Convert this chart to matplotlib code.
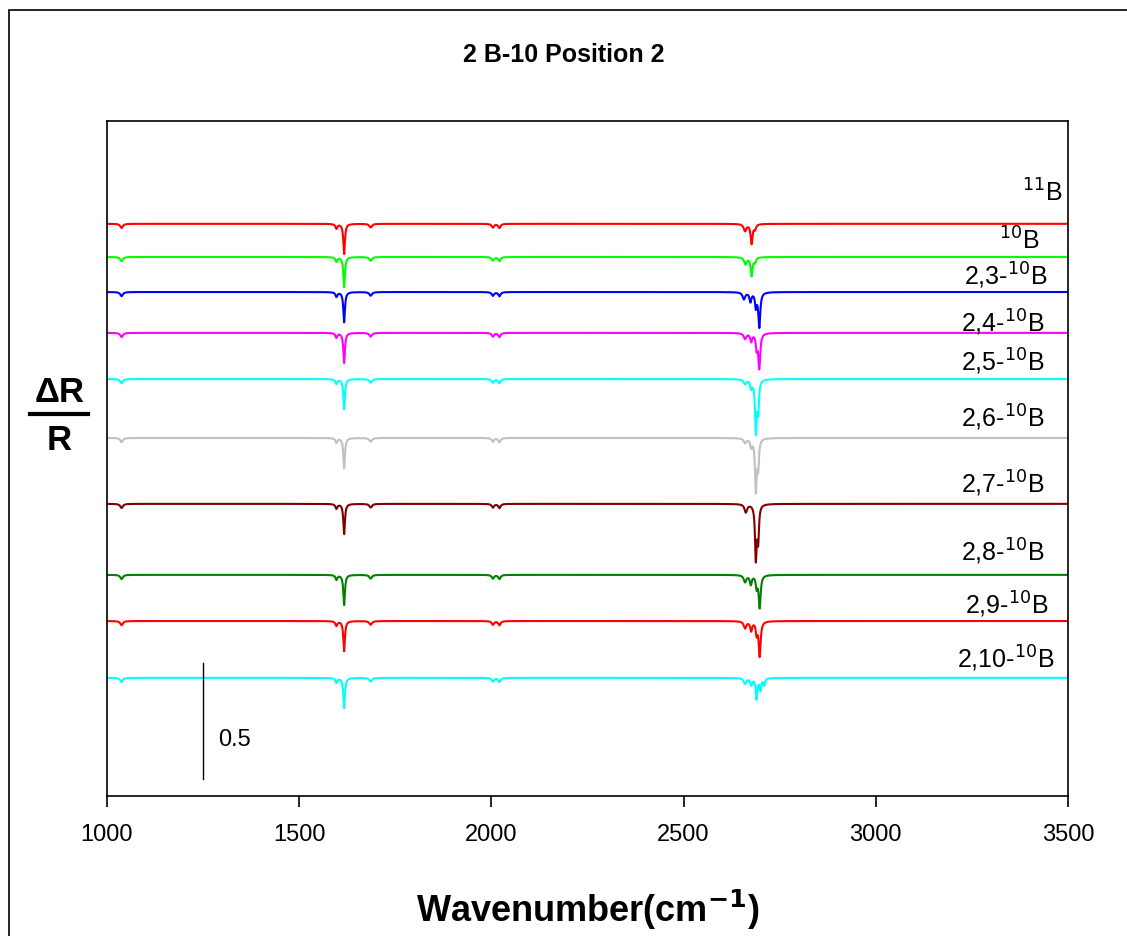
import numpy as np
import matplotlib
matplotlib.use('Agg')
import matplotlib.pyplot as plt
from matplotlib.lines import Line2D
from matplotlib.patches import Rectangle

plt.rcParams['font.family'] = ['Liberation Sans', 'DejaVu Sans']

# trace names, colours and vertical offsets (units of dR/R)
labels = ['$^{11}$B', '$^{10}$B', '2,3-$^{10}$B', '2,4-$^{10}$B', '2,5-$^{10}$B',
          '2,6-$^{10}$B', '2,7-$^{10}$B', '2,8-$^{10}$B', '2,9-$^{10}$B', '2,10-$^{10}$B']
colors = ['#FF0000', '#00FF00', '#0000FF', '#FF00FF', '#00FFFF',
          '#C0C0C0', '#800000', '#008000', '#FF0000', '#00FFFF']
offsets = [2.466, 2.323, 2.172, 1.996, 1.797, 1.543, 1.259, 0.953, 0.754, 0.509]

# dips shared by every trace: (position cm-1, depth, half width)
common_peaks = [(1038, 0.018, 4), (1597, 0.02, 3), (1617, 0.13, 2.5),
                (1686, 0.016, 4), (2004, 0.016, 3.5), (2021, 0.018, 3.5)]

# dips of the C-H region, per trace
ch_peaks = [
    [(2660, 0.03, 4), (2677, 0.085, 3), (2686, 0.02, 3)],
    [(2661, 0.03, 4), (2677, 0.08, 3), (2686, 0.02, 3)],
    [(2657, 0.03, 4), (2674, 0.04, 3), (2688, 0.06, 2.5), (2697, 0.15, 3)],
    [(2660, 0.025, 4), (2676, 0.035, 3), (2690, 0.06, 2.5), (2697, 0.15, 3)],
    [(2660, 0.02, 4), (2676, 0.035, 3), (2688, 0.22, 2.5), (2694, 0.13, 2.5)],
    [(2660, 0.02, 4), (2676, 0.035, 3), (2688, 0.22, 2.5), (2694, 0.12, 2.5)],
    [(2662, 0.035, 4), (2688, 0.23, 2.5), (2694, 0.15, 2.5)],
    [(2660, 0.03, 4), (2675, 0.04, 3), (2690, 0.05, 2.5), (2698, 0.14, 3)],
    [(2660, 0.03, 4), (2676, 0.04, 3), (2690, 0.05, 2.5), (2698, 0.15, 3)],
    [(2660, 0.025, 4), (2676, 0.03, 3), (2690, 0.09, 2.5), (2700, 0.05, 2.5), (2710, 0.03, 2.5)],
]

# label anchor points (x in cm-1, y in dR/R), right aligned
label_x = [3487, 3427, 3448, 3440, 3440, 3440, 3440, 3440, 3449, 3464]
label_y = [2.60, 2.393, 2.24, 2.04, 1.87, 1.63, 1.345, 1.05, 0.825, 0.59]

wn = np.arange(1000, 3500.5, 0.5)


def spectrum(peaks):
    s = np.zeros_like(wn)
    for x0, d, g in peaks:
        s -= d * g**2 / ((wn - x0)**2 + g**2)
    return s


fig = plt.figure(figsize=(11.27, 9.36), dpi=100)
ax = fig.add_axes([0.0949, 0.1496, 0.8527, 0.7211])

for off, col, pk in zip(offsets, colors, ch_peaks):
    ax.plot(wn, off + spectrum(common_peaks + pk), color=col, lw=1.5)

for lab, lx, ly in zip(labels, label_x, label_y):
    ax.text(lx, ly, lab, ha='right', va='center', fontsize=18)

# scale bar
ax.plot([1250, 1250], [0.073, 0.573], color='black', lw=1)
ax.text(1289, 0.241, '0.5', ha='left', va='center', fontsize=17)

ax.set_xlim(1000, 3500)
ax.set_ylim(0, 2.909)
ax.set_xticks([1000, 1500, 2000, 2500, 3000, 3500])
ax.set_yticks([])
ax.tick_params(axis='x', direction='out', length=8, width=1.2, labelsize=17, pad=12)
for sp in ax.spines.values():
    sp.set_linewidth(1.2)

ax.set_xlabel('Wavenumber(cm$^{\\mathbf{-1}}$)', fontsize=26, fontweight='bold', labelpad=30)

fig.text(0.5, 0.941, '2 B-10 Position 2', ha='center', va='center',
         fontsize=18, fontweight='bold')

# dR/R as a stacked fraction
fig.text(0.0525, 0.581, '\u0394R', ha='center', va='center', fontsize=25, fontweight='bold')
fig.text(0.0525, 0.529, 'R', ha='center', va='center', fontsize=25, fontweight='bold')
fig.add_artist(Line2D([0.027, 0.078], [0.558, 0.558], transform=fig.transFigure,
                      color='black', lw=3))

# outer frame of the figure
fig.add_artist(Rectangle((0.008, -0.1), 1.2, 1.089, transform=fig.transFigure,
                         fill=False, edgecolor='black', lw=1.2, clip_on=False))

fig.savefig('out.png', dpi=100)
